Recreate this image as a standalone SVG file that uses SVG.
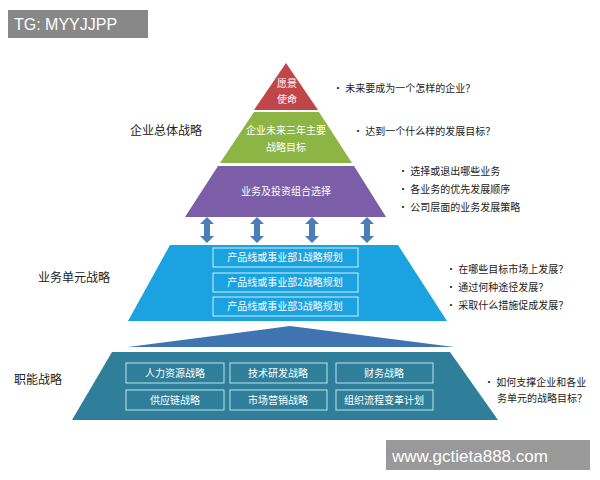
<svg xmlns="http://www.w3.org/2000/svg" width="600" height="480" viewBox="0 0 600 480">
<style>
text{font-family:"Noto Sans CJK SC","Liberation Sans",sans-serif}
.w{fill:#fff;font-size:10px;text-anchor:middle}
.l{fill:#222;font-size:12px}
.b{fill:#222;font-size:10px}
.bx{fill:none;stroke:#cfeffa;stroke-width:1}
.bx2{fill:none;stroke:#bfe3ee;stroke-width:1}
.ar{fill:#4a7ebb}
</style>
<defs><path id="dar" d="M-7,-6 L0,-13 L7,-6 L3,-6 L3,6 L7,6 L0,13 L-7,6 L-3,6 L-3,-6Z"/></defs>
<rect width="600" height="480" fill="#fff"/>
<g id="vision"><path d="M286,63 L318,110 L254,110Z" fill="#c0464a"/><text class="w" x="287" y="87">愿景</text><text class="w" x="287" y="103">使命</text></g>
<g id="goals"><path d="M254,112 L319,112 L352,163 L220,163Z" fill="#8db543"/><text class="w" x="286" y="134">企业未来三年主要</text><text class="w" x="286" y="151">战略目标</text></g>
<g id="portfolio"><path d="M218,166 L354,166 L386,217 L185,217Z" fill="#7b5ea7"/><text class="w" x="286" y="195">业务及投资组合选择</text></g>
<g id="connectors" class="ar">
<use href="#dar" x="207" y="230"/><use href="#dar" x="257" y="230"/><use href="#dar" x="312" y="230"/><use href="#dar" x="367" y="230"/>
<path d="M290,326 L454,347 L128,347Z" fill="#3e74b0"/>
</g>
<g id="business"><path d="M170,245 L398,245 L447,321 L128,321Z" fill="#1aa3e0"/>
<rect class="bx" x="213" y="248" width="145" height="19"/><rect class="bx" x="213" y="273" width="145" height="19"/><rect class="bx" x="213" y="297" width="145" height="19"/>
<text class="w" x="285" y="261">产品线或事业部1战略规划</text>
<text class="w" x="285" y="286">产品线或事业部2战略规划</text>
<text class="w" x="285" y="310">产品线或事业部3战略规划</text></g>
<g id="functional"><path d="M112,352 L450,352 L498,420 L72,420Z" fill="#2f7f9a"/>
<rect class="bx2" x="126" y="363" width="98" height="20"/><rect class="bx2" x="230" y="363" width="97" height="20"/><rect class="bx2" x="336" y="363" width="97" height="20"/>
<rect class="bx2" x="126" y="390" width="98" height="20"/><rect class="bx2" x="230" y="390" width="97" height="20"/><rect class="bx2" x="336" y="390" width="97" height="20"/>
<text class="w" x="175" y="377">人力资源战略</text><text class="w" x="278" y="377">技术研发战略</text><text class="w" x="384" y="377">财务战略</text>
<text class="w" x="175" y="404">供应链战略</text><text class="w" x="278" y="404">市场营销战略</text><text class="w" x="384" y="404">组织流程变革计划</text></g>
<g id="labels">
<text class="l" x="130" y="135">企业总体战略</text><text class="l" x="38" y="282">业务单元战略</text><text class="l" x="14" y="384">职能战略</text>
<text class="b" x="333" y="92">•  未来要成为一个怎样的企业？</text>
<text class="b" x="353" y="135">•  达到一个什么样的发展目标？</text>
<text class="b" x="398" y="175">•  选择或退出哪些业务</text><text class="b" x="398" y="193">•  各业务的优先发展顺序</text><text class="b" x="398" y="211">•  公司层面的业务发展策略</text>
<text class="b" x="446" y="273">•  在哪些目标市场上发展？</text><text class="b" x="446" y="291">•  通过何种途径发展？</text><text class="b" x="446" y="309">•  采取什么措施促成发展？</text>
<text class="b" x="484" y="386">•  如何支撑企业和各业</text><text class="b" x="497" y="402">务单元的战略目标？</text>
</g>
<g id="wm">
<rect x="8" y="10" width="140" height="28" fill="#888"/><text x="14" y="30" style="font-family:'Liberation Sans',sans-serif;font-size:16px;fill:#fff">TG: MYYJJPP</text>
<rect x="386" y="440" width="204" height="30" fill="#999"/><text x="392" y="462" style="font-family:'Liberation Sans',sans-serif;font-size:17px;fill:#fff">www.gctieta888.com</text>
</g>
</svg>
